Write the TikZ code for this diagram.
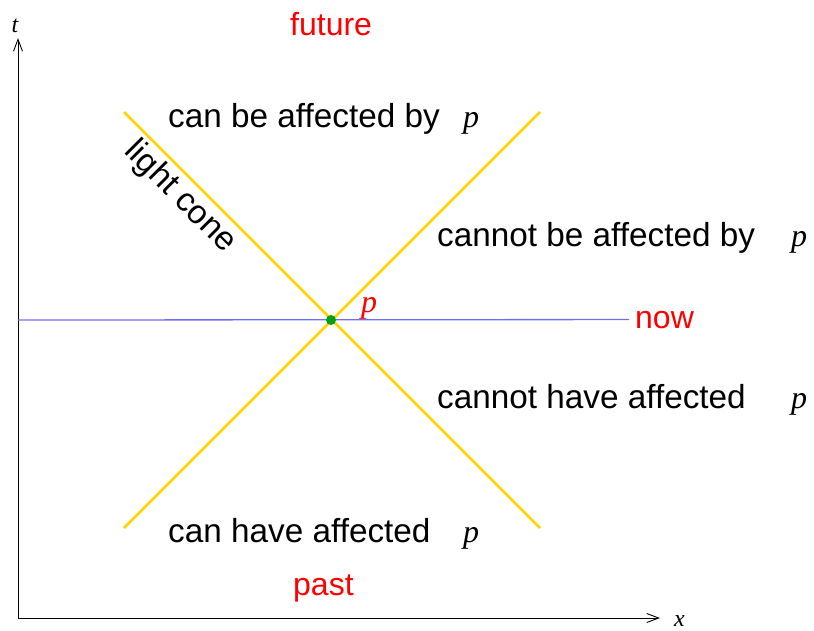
\documentclass[tikz,border=0pt]{standalone}
\usepackage{fontspec}
\setmainfont{Liberation Sans}
\newfontfamily\tms{Liberation Serif}
\usetikzlibrary{arrows.meta}

\definecolor{conegold}{RGB}{255,212,0}
\definecolor{nowblue}{RGB}{110,110,245}
\definecolor{dotgreen}{RGB}{0,160,20}

\begin{document}
\begin{tikzpicture}[x=1pt, y=-1pt,
    txt/.style={inner sep=0pt, font=\fontsize{33.3}{40}\selectfont},
    hot/.style={inner sep=0pt, font=\fontsize{32}{38}\selectfont, text=red},
    var/.style={inner sep=0pt, font=\fontsize{32}{38}\selectfont\tms\itshape},
    axis/.style={draw, line width=0.9pt, -{Straight Barb[length=12pt, width=9pt]}},
    cone/.style={draw=conegold, line width=2.6pt},
    nowline/.style={draw=nowblue, line width=1.3pt}]
    \useasboundingbox (0,0) rectangle (814,630);

    % axes
    \coordinate (o) at (18,618);
    \coordinate (tend) at (18,38);
    \coordinate (xend) at (660,618);
    \node[var, font=\fontsize{24}{28}\selectfont\tms\itshape, anchor=base] (tlab) at (15,32) {t};
    \node[var, font=\fontsize{24}{28}\selectfont\tms\itshape, anchor=base west] (xlab) at (674,626) {x};
    \path[axis] (o) -- (tend);
    \path[axis] (o) -- (xend);

    % the event p
    \coordinate (p) at (331,320);
    \coordinate (ul) at (124,112);
    \coordinate (lr) at (540,528);
    \coordinate (ll) at (124,528);
    \coordinate (ur) at (540,112);
    \coordinate (nowstart) at (18,320);
    \node[hot, anchor=base west] (now) at (635,328) {now};
    \path[nowline, shorten >=6pt] (nowstart) -- (now.west);
    \path[cone] (ul) -- (lr);
    \path[cone] (ll) -- (ur);
    \fill[dotgreen] (p) circle (5);
    \node[var, text=red, anchor=base west] (plab) at (361,312) {p};

    % regions
    \node[hot, anchor=base west] (fut) at (290,35) {future};
    \node[hot, anchor=base west] (past) at (293,595) {past};
    \node[txt, anchor=base west] (futa) at (168,127) {can be affected by};
    \node[var, anchor=base west] (futp) at (463,127) {p};
    \node[txt, anchor=base west] (elsea) at (437,246) {cannot be affected by};
    \node[var, anchor=base west] (elsep) at (791,246) {p};
    \node[txt, anchor=base west] (elseb) at (437,408) {cannot have affected};
    \node[var, anchor=base west] (elsebp) at (791,408) {p};
    \node[txt, anchor=base west] (pasta) at (168,542) {can have affected};
    \node[var, anchor=base west] (pastp) at (463,542) {p};
    \node[txt, rotate=-45] (lc) at (180,197) {light cone};
\end{tikzpicture}
\end{document}
